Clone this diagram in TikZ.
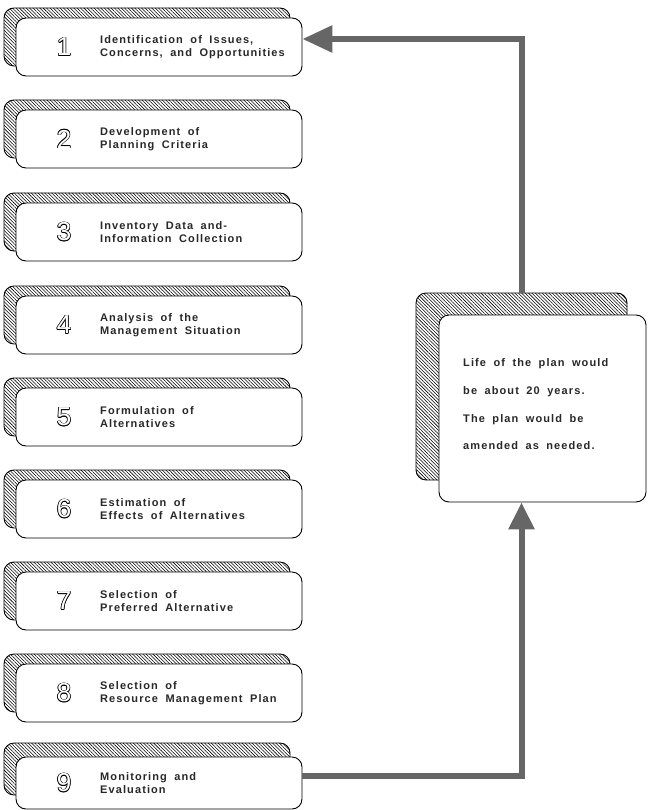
\documentclass[tikz,border=0pt]{standalone}
\usepackage{fontspec}
\setmainfont{Liberation Sans}[LetterSpace=10,WordSpace=1.8]
\newfontfamily\digitfont{Liberation Sans}
\usetikzlibrary{patterns.meta,arrows.meta,calc}
\definecolor{arrowgray}{RGB}{102,102,102}
\definecolor{inkgray}{RGB}{40,40,40}
\newcommand\odcopy[3]{\rlap{\kern#1\raisebox{#2}{#3}}}
\newcommand\outdig[1]{{\digitfont\fontsize{26}{26}\selectfont\color{black}%
\odcopy{-.7pt}{0pt}{#1}\odcopy{.7pt}{0pt}{#1}\odcopy{0pt}{.7pt}{#1}\odcopy{0pt}{-.7pt}{#1}%
\odcopy{-.5pt}{-.5pt}{#1}\odcopy{.5pt}{.5pt}{#1}\odcopy{-.5pt}{.5pt}{#1}\odcopy{.5pt}{-.5pt}{#1}%
\color{white}#1}}
\tikzset{
  frontbox/.style={draw, fill=white, rounded corners=10pt, line width=0.9pt,
    minimum width=286pt, minimum height=58pt, inner sep=0pt},
  shadowbox/.style={draw, rounded corners=10pt, line width=0.9pt,
    minimum width=286pt, minimum height=58pt, inner sep=0pt,
    pattern={Lines[angle=-45,distance=2.4pt,line width=0.55pt]}},
  numtext/.style={inner sep=0pt},
  steptext/.style={anchor=west, align=left, inner sep=0pt, text=inkgray,
    font=\bfseries\fontsize{11}{13}\selectfont},
  flow/.style={draw=arrowgray, line width=6pt},
}
\begin{document}
\begin{tikzpicture}[x=1pt,y=-1pt]
\useasboundingbox (0,0) rectangle (648,810);
\foreach \k/\t/\h/\so/\txt in {
  1/18/58/10/{Identification of Issues,\\Concerns, and Opportunities},
  2/110/58/10/{Development of\\Planning Criteria},
  3/203/58/10/{Inventory Data and-\\Information Collection},
  4/296/58/10/{Analysis of the\\Management Situation},
  5/388/58/10/{Formulation of\\Alternatives},
  6/480/58/10/{Estimation of\\Effects of Alternatives},
  7/572/58/10/{Selection of\\Preferred Alternative},
  8/664/58/10/{Selection of\\Resource Management Plan},
  9/757/52/14/{Monitoring and\\Evaluation}}{
  \node[shadowbox, minimum height=\h pt] (s\k) at (147,{\t+\h/2-\so}) {};
  \node[frontbox, minimum height=\h pt] (b\k) at (159,{\t+\h/2}) {};
  \node[numtext] (n\k) at (64,{\t+\h/2}) {\outdig{\k}};
  \node[steptext] (t\k) at (100,{\t+\h/2}) {\txt};
}
\node[shadowbox, minimum width=211pt, minimum height=187pt] (sn) at (521.5,386.5) {};
\node[frontbox, minimum width=207pt, minimum height=187pt] (note) at (542.5,408.5) {};
\node[steptext, font=\bfseries\fontsize{11}{27.7}\selectfont] (nt) at (463,404.5)
  {Life of the plan would\\be about 20 years.\\The plan would be\\amended as needed.};
\coordinate (tip1) at ($(b1.east)+(0,-8)$);
\coordinate (st9) at ($(b9.east)+(0,-7)$);
\coordinate (tip2) at (sn.north |- note.south);
\draw[flow, -{Triangle[length=30pt,width=26pt]}] (sn.north) |- (tip1);
\draw[flow, -{Triangle[length=27pt,width=25pt]}] (st9) -| (tip2);
\end{tikzpicture}
\end{document}
